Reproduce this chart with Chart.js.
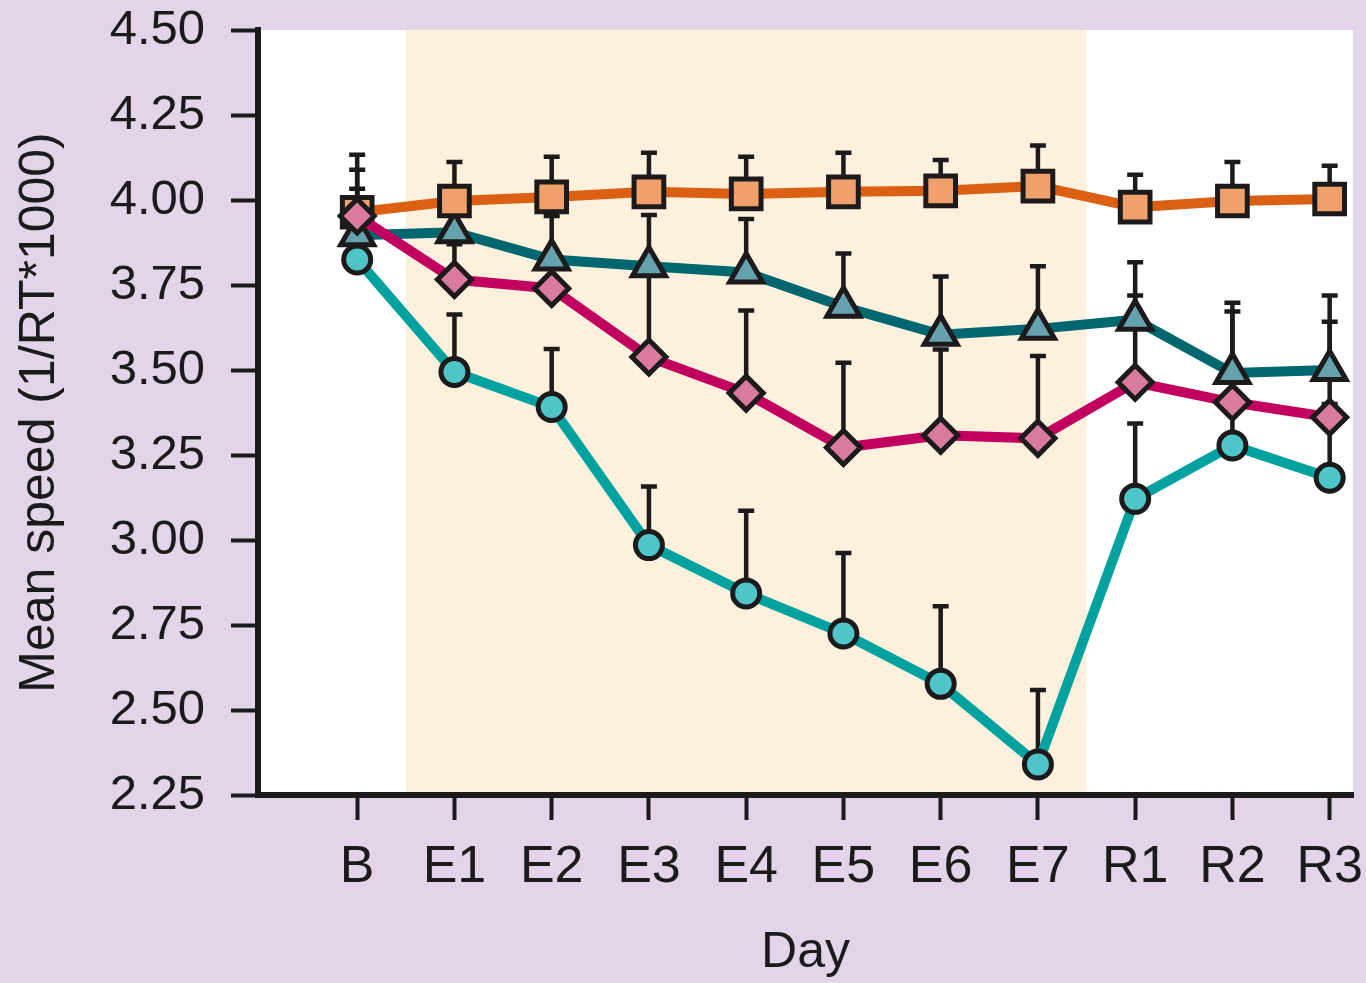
<!DOCTYPE html>
<html>
<head>
<meta charset="utf-8">
<script src="https://cdn.jsdelivr.net/npm/chart.js@4/dist/chart.umd.min.js"></script>
<style>
  html, body { margin: 0; padding: 0; background: #e2d5ea; }
  canvas { display: block; }
</style>
</head>
<body>
<canvas id="speedChart" width="1366" height="983"></canvas>
<script>
// days on the x axis
const days = ['B', 'E1', 'E2', 'E3', 'E4', 'E5', 'E6', 'E7', 'R1', 'R2', 'R3'];
const yTicks = [2.25, 2.50, 2.75, 3.00, 3.25, 3.50, 3.75, 4.00, 4.25, 4.50];

// means and top of the error bar for each group
const squareMean = [3.964, 3.997, 4.009, 4.024, 4.018, 4.024, 4.027, 4.041, 3.979, 3.997, 4.003];
const squareTop  = [4.133, 4.112, 4.127, 4.139, 4.127, 4.139, 4.118, 4.160, 4.074, 4.112, 4.101];
const triMean    = [3.896, 3.905, 3.825, 3.805, 3.787, 3.686, 3.604, 3.621, 3.648, 3.491, 3.500];
const triTop     = [4.033, 3.970, 3.953, 3.956, 3.944, 3.843, 3.775, 3.805, 3.817, 3.698, 3.719];
const diaMean    = [3.953, 3.766, 3.740, 3.538, 3.432, 3.272, 3.308, 3.299, 3.464, 3.405, 3.361];
const diaTop     = [4.089, 3.870, 3.830, 3.780, 3.675, 3.521, 3.560, 3.541, 3.719, 3.672, 3.642];
const circMean   = [3.825, 3.494, 3.391, 2.985, 2.843, 2.725, 2.577, 2.340, 3.121, 3.278, 3.183];
const circTop    = [3.950, 3.663, 3.562, 3.157, 3.086, 2.962, 2.805, 2.559, 3.343, 3.380, 3.400];

// exercise period shading (between B/E1 and E7/R1)
const bandStart = 0.5;
const bandEnd = 7.5;

const ink = '#1c1a1a';
const fontFam = '"Liberation Sans", Arial, sans-serif';

const toPts = arr => arr.map((v, i) => ({ x: i, y: v }));

// 背景：白色繪圖區 + 淡橘色區段
const backdrop = {
    id: 'backdrop',
    beforeDraw(chart) {
        const { ctx, chartArea: a, scales: { x } } = chart;
        ctx.save();
        ctx.fillStyle = '#ffffff';
        ctx.fillRect(a.left, a.top, a.right - a.left, a.bottom - a.top);
        const l = x.getPixelForValue(bandStart);
        const r = x.getPixelForValue(bandEnd);
        ctx.fillStyle = '#fdf0dc';
        ctx.fillRect(l, a.top, r - l, a.bottom - a.top);
        ctx.restore();
    }
};

// 誤差線（只畫上半段）
const errorBars = {
    id: 'errorBars',
    beforeDatasetsDraw(chart) {
        const { ctx, scales: { x, y } } = chart;
        ctx.save();
        ctx.strokeStyle = ink;
        ctx.lineWidth = 4.5;
        chart.data.datasets.forEach(ds => {
            ds.errTop.forEach((top, i) => {
                const px = x.getPixelForValue(i);
                const y0 = y.getPixelForValue(ds.data[i].y);
                const y1 = y.getPixelForValue(top);
                ctx.beginPath();
                ctx.moveTo(px, y0);
                ctx.lineTo(px, y1);
                ctx.moveTo(px - 8, y1);
                ctx.lineTo(px + 8, y1);
                ctx.stroke();
            });
        });
        ctx.restore();
    }
};

function series(mean, top, line, fill, style, radius) {
    return {
        data: toPts(mean),
        errTop: top,
        borderColor: line,
        borderWidth: 10,
        pointStyle: style,
        pointRadius: radius,
        pointHoverRadius: radius,
        pointBackgroundColor: fill,
        pointBorderColor: ink,
        pointBorderWidth: 5,
        tension: 0
    };
}

const ctx = document.getElementById('speedChart').getContext('2d');
new Chart(ctx, {
    type: 'line',
    data: {
        datasets: [
            series(diaMean, diaTop, '#c2005f', '#d97a9f', 'rectRot', 17),
            series(squareMean, squareTop, '#dc6014', '#f0a16b', 'rect', 21),
            series(triMean, triTop, '#006670', '#65a2ae', 'triangle', 19),
            series(circMean, circTop, '#00a2a0', '#4dc5c9', 'circle', 13.5)
        ]
    },
    options: {
        responsive: false,
        animation: false,
        devicePixelRatio: 1,
        layout: { autoPadding: false, padding: { top: 30, right: 13, left: 0, bottom: 0 } },
        plugins: {
            legend: { display: false },
            tooltip: { enabled: false }
        },
        scales: {
            x: {
                type: 'linear',
                min: -1.02,
                max: 10.24,
                afterBuildTicks: s => { s.ticks = days.map((_, i) => ({ value: i })); },
                afterFit: s => { s.height = 188; s.paddingLeft = 0; s.paddingRight = 0; },
                grid: { drawOnChartArea: false, drawTicks: true, tickLength: 25, tickWidth: 4, tickColor: ink },
                border: { display: true, width: 6, color: ink },
                ticks: {
                    callback: v => days[v],
                    font: { size: 52, family: fontFam },
                    color: ink,
                    padding: 16,
                    maxRotation: 0,
                    autoSkip: false
                },
                title: {
                    display: true,
                    text: 'Day',
                    font: { size: 50, family: fontFam },
                    color: ink,
                    padding: { top: 0, bottom: 0 }
                }
            },
            y: {
                min: 2.25,
                max: 4.5,
                afterBuildTicks: s => { s.ticks = yTicks.map(v => ({ value: v })); },
                afterFit: s => { s.width = 258; s.paddingTop = 0; s.paddingBottom = 0; },
                grid: { drawOnChartArea: false, drawTicks: true, tickLength: 27, tickWidth: 4, tickColor: ink },
                border: { display: true, width: 6, color: ink },
                ticks: {
                    callback: v => v.toFixed(2),
                    font: { size: 49, family: fontFam },
                    color: ink,
                    padding: 26
                },
                title: {
                    display: true,
                    text: 'Mean speed (1/RT*1000)',
                    font: { size: 50, family: fontFam },
                    color: ink,
                    padding: { top: 10, bottom: 0 }
                }
            }
        }
    },
    plugins: [backdrop, errorBars]
});
</script>
</body>
</html>
